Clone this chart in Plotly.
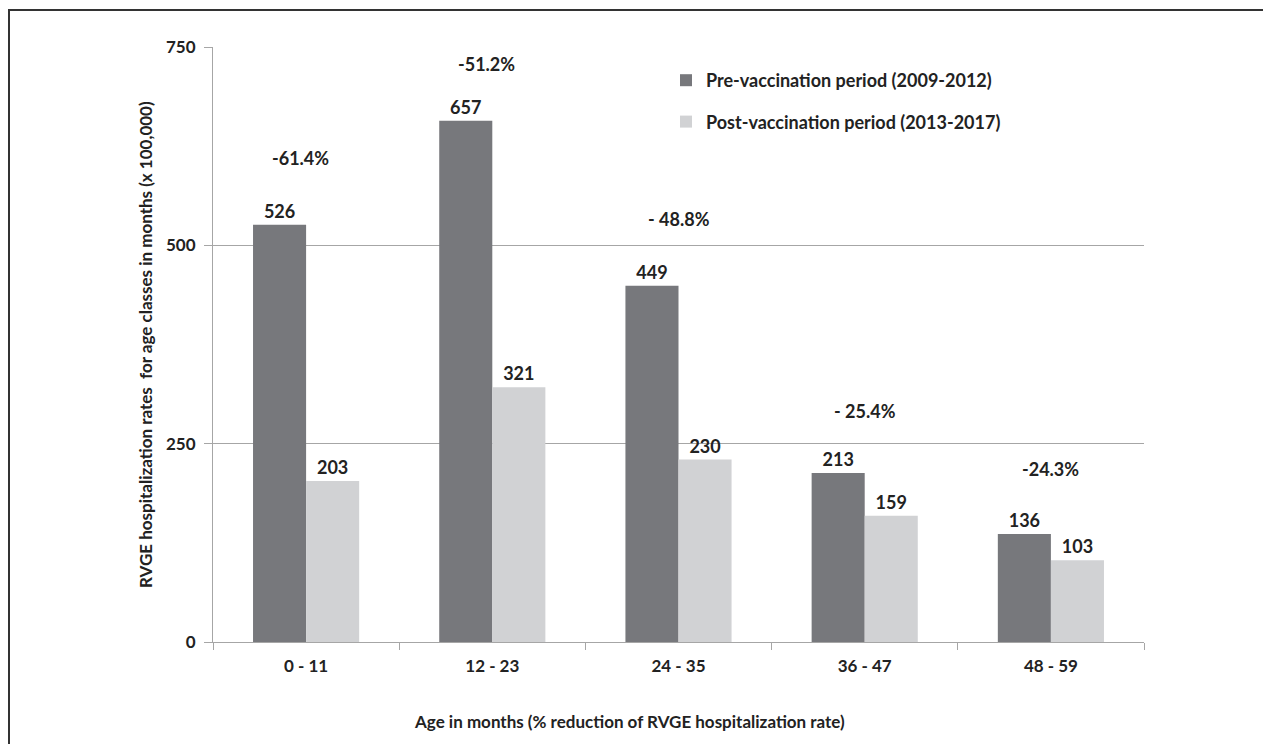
import plotly.graph_objects as go

categories = ["0 - 11", "12 - 23", "24 - 35", "36 - 47", "48 - 59"]
pre_values = [526, 657, 449, 213, 136]
post_values = [203, 321, 230, 159, 103]
reductions = ["-61.4%", "-51.2%", "- 48.8%", "- 25.4%", "-24.3%"]
reduction_label_y = [610, 729, 533, 291, 218]
y_ticks = [0, 250, 500, 750]

FONT = "Lato"
TXT = "#222222"
OFF = 8  # page body margin
W, H = 1271 - OFF, 744 - OFF
L, T = 213 - OFF, 47 - OFF
pw, ph = 931, 595
R, B = W - L - pw, H - T - ph


def px(xabs):
    return (xabs - OFF - L) / pw


def py(yabs):
    return (H - (yabs - OFF) - B) / ph


fig = go.Figure()
fig.add_trace(go.Bar(
    x=categories, y=pre_values, name="Pre-vaccination period (2009-2012)",
    marker=dict(color="#77787c", line=dict(width=0)),
    text=[str(v) for v in pre_values], textposition="outside", cliponaxis=False,
    textfont=dict(family=FONT, size=18, color=TXT, weight="bold"),
    legendgroup="a",
))
fig.add_trace(go.Bar(
    x=categories, y=post_values, name="Post-vaccination period (2013-2017)",
    marker=dict(color="#d1d2d4", line=dict(width=0)),
    text=[str(v) for v in post_values], textposition="outside", cliponaxis=False,
    textfont=dict(family=FONT, size=18, color=TXT, weight="bold"),
    legendgroup="b",
))

for i, (c, r) in enumerate(zip(categories, reductions)):
    fig.add_annotation(x=c, y=reduction_label_y[i], xref="x", yref="y", text=r,
                       showarrow=False, xshift=-6 if i < 2 else 0,
                       font=dict(family=FONT, size=18, color=TXT, weight="bold"))

# x axis title
fig.add_annotation(x=px(629), y=py(721), xref="paper", yref="paper",
                   xanchor="center", yanchor="middle",
                   text="Age in months (% reduction of RVGE hospitalization rate)",
                   showarrow=False,
                   font=dict(family=FONT, size=17, color=TXT, weight="bold"))
# y axis title
fig.add_annotation(x=px(145), y=py(345), xref="paper", yref="paper",
                   xanchor="center", yanchor="middle",
                   text="RVGE hospitalization rates  for age classes in months (x 100,000)",
                   textangle=-90, showarrow=False,
                   font=dict(family=FONT, size=17, color=TXT, weight="bold"))

# outer frame
fig.add_shape(type="rect", xref="paper", yref="paper",
              x0=px(9), x1=px(1269),
              y0=py(770), y1=py(10),
              line=dict(color="#333333", width=2), fillcolor="rgba(0,0,0,0)",
              layer="below")

fig.update_layout(
    width=W, height=H,
    margin=dict(l=L, r=R, t=T, b=B),
    paper_bgcolor="white", plot_bgcolor="white",
    barmode="group", bargap=0.43, bargroupgap=0,
    font=dict(family=FONT, size=17, color=TXT),
    legend=dict(x=px(666), y=py(62), xanchor="left", yanchor="top",
                bgcolor="rgba(0,0,0,0)", tracegroupgap=15,
                font=dict(family=FONT, size=18, color=TXT, weight="bold"),
                itemwidth=30),
    xaxis=dict(showline=True, linecolor="#a6a6a6", linewidth=1,
               ticks="outside", tickson="boundaries", ticklen=7, tickcolor="#a6a6a6",
               ticklabelstandoff=9,
               tickfont=dict(family=FONT, size=17, color=TXT, weight="bold"),
               showgrid=False),
    yaxis=dict(range=[0, 750], tickvals=y_ticks, showline=True, linecolor="#a6a6a6",
               linewidth=1, ticks="outside", ticklen=8, tickcolor="#a6a6a6",
               ticklabelstandoff=5,
               showgrid=True, gridcolor="#a6a6a6", gridwidth=1, zeroline=False,
               tickfont=dict(family=FONT, size=17, color=TXT, weight="bold")),
)

fig.write_html("out.html")
